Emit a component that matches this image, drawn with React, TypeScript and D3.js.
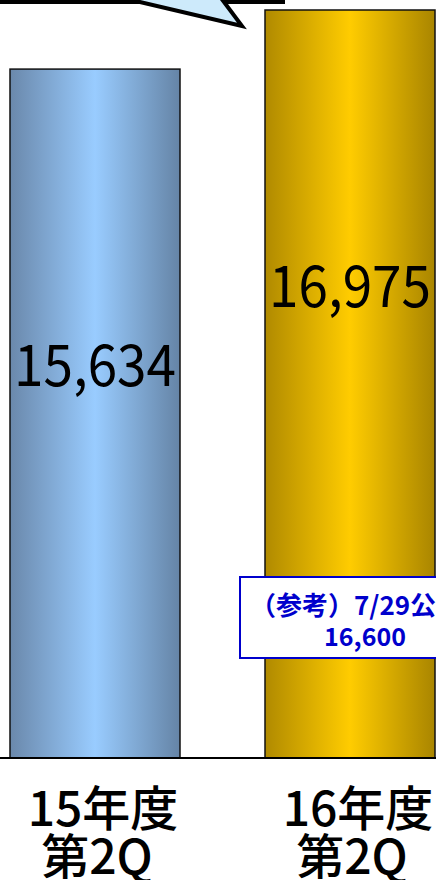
import { scaleBand, scaleLinear } from "d3";

const categories = ["15年度", "16年度"];
const subLabels = ["第2Q", "第2Q"];
const values = [15634, 16975];
const valueLabels = ["15,634", "16,975"];
const refLines = ["（参考）7/29公表", "16,600"];

const W = 436;
const H = 880;
const baseY = 758;

export default function App() {
  const x = scaleBand<string>()
    .domain(categories)
    .range([-66.5, 511.5])
    .paddingInner(1 / 3)
    .paddingOuter(0.3);
  const y = scaleLinear().domain([0, values[1]]).range([baseY, 10]);
  const bw = x.bandwidth();

  const font = "'Noto Sans CJK JP', 'Noto Sans', sans-serif";
  const grads = ["blueGrad", "goldGrad"];

  return (
    <svg
      width={W}
      height={H}
      style={{ position: "absolute", left: 0, top: 0, background: "#fff" }}
      fontFamily={font}
    >
      <defs>
        <linearGradient id="blueGrad" x1="0" x2="1" y1="0" y2="0">
          <stop offset="0%" stopColor="#6a88ab" />
          <stop offset="50%" stopColor="#99ccff" />
          <stop offset="100%" stopColor="#6584a6" />
        </linearGradient>
        <linearGradient id="goldGrad" x1="0" x2="1" y1="0" y2="0">
          <stop offset="0%" stopColor="#b08a00" />
          <stop offset="50%" stopColor="#ffcc00" />
          <stop offset="100%" stopColor="#a98500" />
        </linearGradient>
      </defs>

      {/* callout bubble coming from above */}
      <path
        d="M-10,-60 L283,-60 L283,2 L224,2 L242,26 L140,2 L-10,2 Z"
        fill="#cdeafb"
        stroke="#000"
        strokeWidth={4}
        strokeLinejoin="miter"
      />

      {categories.map((c, i) => (
        <rect
          key={c}
          x={x(c)}
          y={y(values[i])}
          width={bw}
          height={baseY - y(values[i])}
          fill={`url(#${grads[i]})`}
          stroke="#111"
          strokeWidth={1.5}
        />
      ))}

      <line x1={0} x2={W} y1={baseY} y2={baseY} stroke="#000" strokeWidth={2} />

      {categories.map((c, i) => {
        const cx = (x(c) ?? 0) + bw / 2;
        const cy = i === 0 ? 386 : 307;
        return (
          <text
            key={"v" + c}
            x={cx}
            y={cy}
            textAnchor="middle"
            fontSize={58}
            textLength={162}
            lengthAdjust="spacingAndGlyphs"
            fill="#000"
          >
            {valueLabels[i]}
          </text>
        );
      })}

      {/* reference box */}
      <rect x={240} y={577} width={220} height={81} fill="#fff" stroke="#0000cc" strokeWidth={2} />
      <text x={250} y={615} fontSize={26} fontWeight="bold" fill="#0000cc">
        {refLines[0]}
      </text>
      <text x={365} y={646} fontSize={25} fontWeight="bold" fill="#0000cc" textAnchor="middle">
        {refLines[1]}
      </text>

      {categories.map((c, i) => {
        const cx = (x(c) ?? 0) + bw / 2;
        return (
          <g key={"l" + c} fill="#000" fontSize={48} fontWeight={500} textAnchor="middle">
            <text x={cx + 8} y={826}>{c}</text>
            <text x={cx + 2} y={874}>{subLabels[i]}</text>
          </g>
        );
      })}
    </svg>
  );
}
